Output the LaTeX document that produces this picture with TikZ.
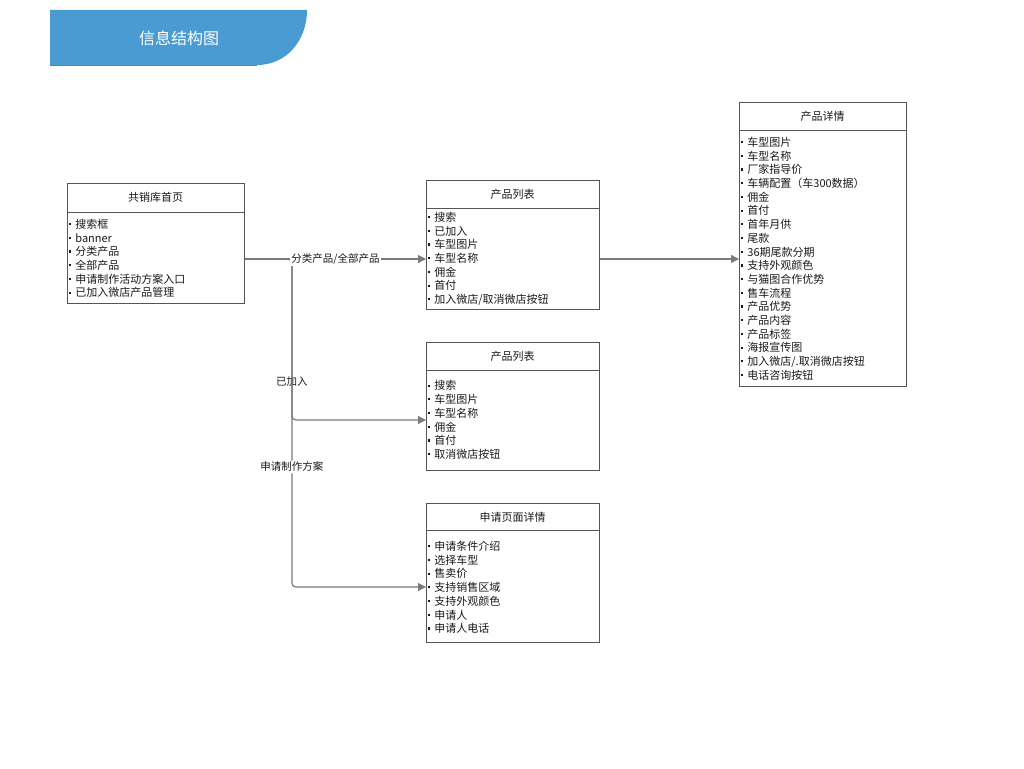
\documentclass[tikz,border=0pt]{standalone}
\usepackage{fontspec}
\setmainfont{Noto Sans CJK SC}
\usetikzlibrary{arrows.meta,calc}
\definecolor{hdrblue}{HTML}{4A9BD2}
\definecolor{hdredge}{HTML}{3C8CC8}
\definecolor{boxline}{HTML}{555555}
\definecolor{connline}{HTML}{7A7A7A}
\definecolor{txt}{HTML}{1A1A1A}
\tikzset{
  card/.style={draw=boxline, line width=0.9pt, fill=white, rectangle, inner sep=0pt, anchor=north west},
  divline/.style={draw=boxline, line width=0.9pt},
  ttl/.style={font=\fontsize{11}{13}\selectfont, text=txt, inner sep=0pt},
  items/.style={font=\fontsize{11}{13.7}\selectfont, text=txt, align=left, inner sep=0pt, anchor=north west},
  conn/.style={draw=connline, line width=1.2pt},
  arr/.style={conn, -{Triangle[length=8pt,width=8pt]}},
  lab/.style={font=\fontsize{10.5}{12}\selectfont, text=txt, fill=white, inner sep=1.5pt},
  labnf/.style={font=\fontsize{10.5}{12}\selectfont, text=txt, inner sep=1.5pt},
}
\newcommand{\bl}{\raisebox{3.2pt}{\rule{2.2pt}{2.2pt}}\hspace{4pt}}
\begin{document}
\begin{tikzpicture}[x=1pt,y=-1pt]
\useasboundingbox (0,0) rectangle (1024,768);
% header
\fill[hdrblue] (50,10) -- (307,10) .. controls (307,40) and (287,65) .. (257,65) -- (50,65) -- cycle;
\draw[hdredge, line width=0.8pt] (50,65) -- (257,65);
\node[font=\fontsize{16}{18}\selectfont, text=white] (hdr) at (179,38) {信息结构图};

% box 1
\node[card, minimum width=177pt, minimum height=120pt] (b1) at (67,183) {};
\draw[divline] (67,212) -- (244,212);
\node[ttl] (b1t) at (155.5,197.5) {共销库首页};
\node[items] (b1i) at (69,219) {\bl 搜索框\\\bl banner\\\bl 分类产品\\\bl 全部产品\\\bl 申请制作活动方案入口\\\bl 已加入微店产品管理};

% box 2
\node[card, minimum width=173pt, minimum height=129pt] (b2) at (426,180) {};
\draw[divline] (426,208) -- (599,208);
\node[ttl] (b2t) at (512.5,194) {产品列表};
\node[items] (b2i) at (428,212) {\bl 搜索\\\bl 已加入\\\bl 车型图片\\\bl 车型名称\\\bl 佣金\\\bl 首付\\\bl 加入微店/取消微店按钮};

% box 3
\node[card, minimum width=173pt, minimum height=128pt] (b3) at (426,342) {};
\draw[divline] (426,370) -- (599,370);
\node[ttl] (b3t) at (512.5,356) {产品列表};
\node[items] (b3i) at (428,380.5) {\bl 搜索\\\bl 车型图片\\\bl 车型名称\\\bl 佣金\\\bl 首付\\\bl 取消微店按钮};

% box 4
\node[card, minimum width=173pt, minimum height=139pt] (b4) at (426,503) {};
\draw[divline] (426,530) -- (599,530);
\node[ttl] (b4t) at (512.5,517) {申请页面详情};
\node[items] (b4i) at (428,541) {\bl 申请条件介绍\\\bl 选择车型\\\bl 售卖价\\\bl 支持销售区域\\\bl 支持外观颜色\\\bl 申请人\\\bl 申请人电话};

% box 5
\node[card, minimum width=167pt, minimum height=284pt] (b5) at (739,102) {};
\draw[divline] (739,130) -- (906,130);
\node[ttl] (b5t) at (822.5,116) {产品详情};
\node[items] (b5i) at (741,137) {\bl 车型图片\\\bl 车型名称\\\bl 厂家指导价\\\bl 车辆配置（车300数据）\\\bl 佣金\\\bl 首付\\\bl 首年月供\\\bl 尾款\\\bl 36期尾款分期\\\bl 支持外观颜色\\\bl 与猫图合作优势\\\bl 售车流程\\\bl 产品优势\\\bl 产品内容\\\bl 产品标签\\\bl 海报宣传图\\\bl 加入微店/.取消微店按钮\\\bl 电话咨询按钮};

% connector points
\coordinate (s1) at ($(b1.north east)+(0,76)$);
\coordinate (t2) at ($(b2.north west)+(0,79)$);
\coordinate (s2) at ($(b2.north east)+(0,79)$);
\coordinate (t5) at ($(b5.north west)+(0,157)$);
\coordinate (t3) at ($(b3.north west)+(0,78)$);
\coordinate (t4) at ($(b4.north west)+(0,84)$);

\draw[arr, rounded corners=4pt] (s1) -- ++(47,0) |- node[pos=0.382, labnf]{已加入} (t3);
\draw[arr, rounded corners=4pt] (s1) -- ++(47,0) |- node[pos=0.317, lab]{申请制作方案} (t4);
\draw[arr] (s1) -- node[lab, pos=0.5]{分类产品/全部产品} (t2);
\draw[arr] (s2) -- (t5);
\end{tikzpicture}
\end{document}
